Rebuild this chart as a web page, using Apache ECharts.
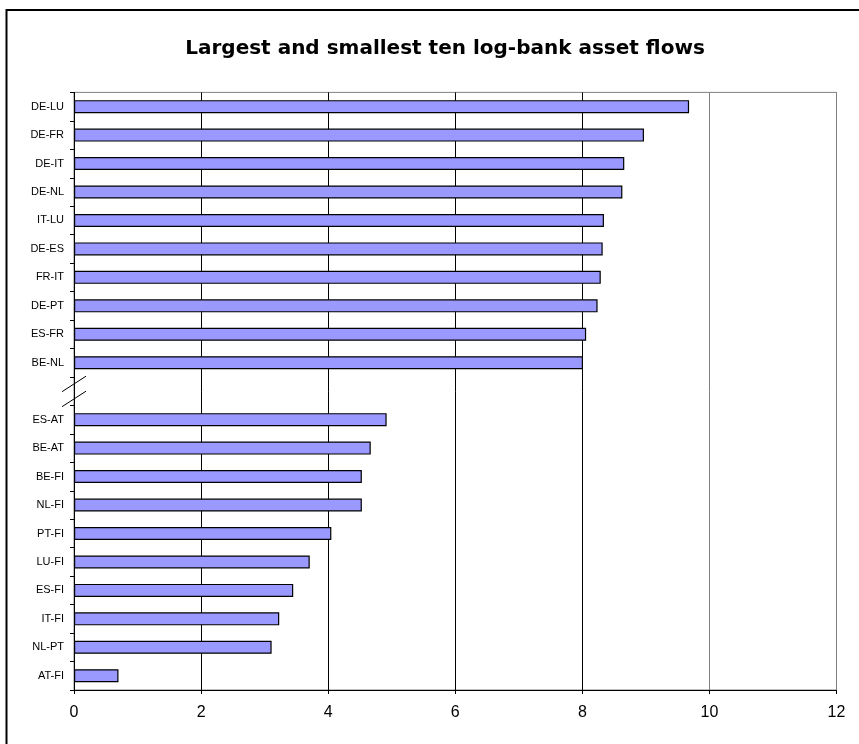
<!DOCTYPE html>
<html>
<head>
<meta charset="utf-8">
<script src="https://cdn.jsdelivr.net/npm/echarts@6/dist/echarts.min.js"></script>
<style>
html,body{margin:0;padding:0;background:#fff;}
#chart{width:859px;height:744px;}
</style>
</head>
<body>
<div id="chart"></div>
<script>
const titleText = 'Largest and smallest ten log-bank asset flows';
const largestCategories = ['DE-LU','DE-FR','DE-IT','DE-NL','IT-LU','DE-ES','FR-IT','DE-PT','ES-FR','BE-NL'];
const largestValues = [9.68, 8.97, 8.66, 8.63, 8.34, 8.32, 8.29, 8.24, 8.06, 8.01];
const smallestCategories = ['ES-AT','BE-AT','BE-FI','NL-FI','PT-FI','LU-FI','ES-FI','IT-FI','NL-PT','AT-FI'];
const smallestValues = [4.92, 4.67, 4.53, 4.53, 4.05, 3.71, 3.45, 3.23, 3.11, 0.70];
const xTicks = [0, 2, 4, 6, 8, 10, 12];

const gapLabel = ' ';
const categories = largestCategories.concat([gapLabel], smallestCategories);
const values = largestValues.concat([null], smallestValues);
const gapIndex = largestCategories.length;

const chart = echarts.init(document.getElementById('chart'), null, {renderer: 'canvas'});
chart.setOption({
  animation: false,
  backgroundColor: '#fff',
  title: {
    text: titleText,
    left: 440,
    top: 34,
    textAlign: 'center',
    textStyle: {fontFamily: 'DejaVu Sans', fontWeight: 'bold', fontSize: 20, color: '#000'}
  },
  grid: {left: 74, right: 22.5, top: 92.4, bottom: 54, show: true, borderColor: '#808080', borderWidth: 1, containLabel: false},
  xAxis: {
    type: 'value',
    min: xTicks[0],
    max: xTicks[xTicks.length - 1],
    interval: 2,
    axisLine: {show: true, lineStyle: {color: '#000', width: 1}},
    axisTick: {show: true, length: 4, lineStyle: {color: '#000'}},
    axisLabel: {margin: 15, fontFamily: 'Liberation Sans', fontSize: 16, color: '#000'},
    splitLine: {show: true, lineStyle: {color: ['#000','#000','#000','#000','#000','#808080','#808080'], width: 1}}
  },
  yAxis: {
    type: 'category',
    inverse: true,
    data: categories,
    axisLine: {show: true, lineStyle: {color: '#000', width: 1}},
    axisTick: {show: true, length: 4, lineStyle: {color: '#000'}},
    axisLabel: {margin: 10, fontFamily: 'Liberation Sans', fontSize: 11, color: '#000'},
    splitLine: {show: false}
  },
  series: [{
    type: 'bar',
    data: values,
    barWidth: 13,
    itemStyle: {color: '#9999FF', borderColor: '#000', borderWidth: 1.2}
  }]
});

// axis-break marks and outer frame
const gy = chart.convertToPixel({yAxisIndex: 0}, gapIndex);
const gx = chart.convertToPixel({xAxisIndex: 0}, 0);
chart.setOption({
  graphic: [
    {type: 'rect', shape: {x: 6.5, y: 10, width: 900, height: 800}, style: {fill: 'none', stroke: '#000', lineWidth: 2}, silent: true},
    {type: 'line', shape: {x1: gx - 12, y1: gy + 0.5, x2: gx + 12, y2: gy - 15}, style: {stroke: '#000', lineWidth: 1}, silent: true, z: 101},
    {type: 'line', shape: {x1: gx - 12, y1: gy + 15.5, x2: gx + 12, y2: gy}, style: {stroke: '#000', lineWidth: 1}, silent: true, z: 101}
  ]
});
</script>
</body>
</html>
